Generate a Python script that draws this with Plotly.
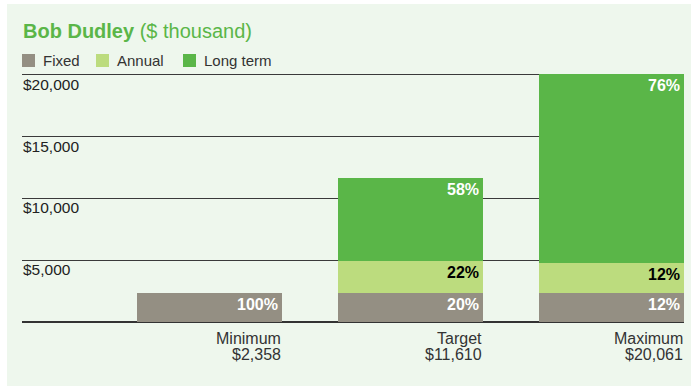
import plotly.graph_objects as go

# Remuneration scenarios, $ thousand
scenarios = ["Minimum", "Target", "Maximum"]
fixed = [2358, 2358, 2358]
annual = [0, 2554, 2450]
long_term = [0, 6698, 15253]
totals = [2358, 11610, 20061]

y_ticks = [5000, 10000, 15000, 20000]
y_tick_labels = ["$5,000", "$10,000", "$15,000", "$20,000"]

series = [
    ("Fixed", fixed, "rgb(148,143,131)", "white"),
    ("Annual", annual, "rgb(188,220,126)", "black"),
    ("Long term", long_term, "rgb(90,182,72)", "white"),
]

W, H = 691, 386
M_L, M_R, M_T, M_B = 22, 7, 70, 64
PW, PH = W - M_L - M_R, H - M_T - M_B
BAR_W = 0.72
FONT = "Liberation Sans, Arial, Helvetica, sans-serif"
GREEN = "rgb(90,182,72)"


def px_x(px):
    return (px - M_L) / PW


def px_y(py):
    return 1 + (M_T - py) / PH


fig = go.Figure()
for name, vals, color, _ in series:
    fig.add_trace(go.Bar(
        name=name, x=list(range(len(scenarios))), y=vals,
        marker=dict(color=color, line=dict(width=0)),
        width=BAR_W, hoverinfo="skip", showlegend=False,
    ))

annotations = []
shapes = [dict(
    type="rect", xref="paper", yref="paper", layer="below",
    x0=px_x(7), x1=px_x(W + 5), y0=px_y(H + 5), y1=px_y(4),
    fillcolor="rgb(238,247,237)", line=dict(width=0),
)]

# Percentage labels at the top-right of each segment
for i, total in enumerate(totals):
    base = 0
    for name, vals, _, txt_color in series:
        v = vals[i]
        if v <= 0:
            continue
        top = base + v
        annotations.append(dict(
            x=i + BAR_W / 2, y=top, xref="x", yref="y",
            xanchor="right", yanchor="top", xshift=-2, yshift=-1,
            text="<b>%d%%</b>" % round(100 * v / total),
            showarrow=False,
            font=dict(family=FONT, size=16, color=txt_color),
        ))
        base = top

# Scenario names and totals under each bar, right-aligned to the bar edge
for i, (s, total) in enumerate(zip(scenarios, totals)):
    for label, shift in ((s, -16), ("$" + format(total, ","), -32)):
        annotations.append(dict(
            x=i + BAR_W / 2, y=0, xref="x", yref="y",
            xanchor="right", yanchor="middle", yshift=shift, xshift=1,
            text=label, showarrow=False,
            font=dict(family=FONT, size=16, color="#333333"),
        ))

# Value-axis labels sitting just under each gridline
for v, lab in zip(y_ticks, y_tick_labels):
    annotations.append(dict(
        x=0, y=v, xref="paper", yref="y",
        xanchor="left", yanchor="top", yshift=1, xshift=-1,
        text=lab, showarrow=False,
        font=dict(family=FONT, size=15.5, color="#222222"),
    ))

# Title
annotations.append(dict(
    x=0, y=px_y(31), xref="paper", yref="paper",
    xanchor="left", yanchor="middle", xshift=-1,
    text="<b>Bob Dudley</b> ($ thousand)",
    showarrow=False,
    font=dict(family=FONT, size=20, color=GREEN),
))

# Legend row: swatch and label for each series
legend_x = [22, 96, 183]
for (name, _, color, _), lx in zip(series, legend_x):
    shapes.append(dict(
        type="rect", xref="paper", yref="paper",
        x0=px_x(lx), x1=px_x(lx + 13), y0=px_y(67), y1=px_y(54),
        fillcolor=color, line=dict(width=0),
    ))
    annotations.append(dict(
        x=px_x(lx + 19), y=px_y(61), xref="paper", yref="paper",
        xanchor="left", yanchor="middle",
        text=name, showarrow=False,
        font=dict(family=FONT, size=15, color="#333333"),
    ))

fig.update_layout(
    width=W, height=H,
    margin=dict(l=M_L, r=M_R, t=M_T, b=M_B),
    paper_bgcolor="white",
    plot_bgcolor="rgba(0,0,0,0)",
    barmode="stack",
    showlegend=False,
    xaxis=dict(
        range=[-0.933, 2.361], showgrid=False, zeroline=False,
        showticklabels=False, fixedrange=True,
    ),
    yaxis=dict(
        range=[0, 20385], tickvals=y_ticks, showticklabels=False,
        showgrid=True, gridcolor="#3a3a3a", gridwidth=1.3,
        zeroline=True, zerolinecolor="#333333", zerolinewidth=1.6,
        fixedrange=True,
    ),
    annotations=annotations,
    shapes=shapes,
)

fig.write_html("out.html")
